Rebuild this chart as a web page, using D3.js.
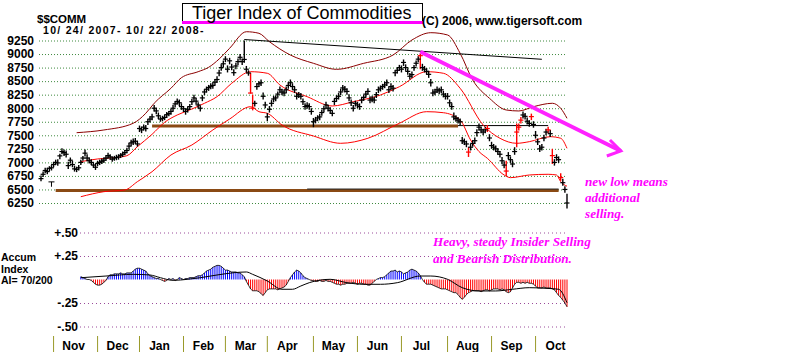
<!DOCTYPE html>
<html><head><meta charset="utf-8">
<script src="https://cdn.jsdelivr.net/npm/d3@7"></script>
<style>body{margin:0;background:#fff}svg{display:block}</style>
</head><body><svg id="c" width="800" height="352"></svg>
<script>
// ---------- DATA ----------
const closes=[
6700,6780,6850,6830,6890,6900,6960,7000,6990,7120,
7200,7180,7150,6940,7040,6960,6880,6870,6900,7000,
7080,7170,7080,7030,7000,6950,6910,6980,7000,7020,
7040,7080,7125,7100,7060,7080,7090,7100,7130,7150,
7180,7220,7300,7360,7380,7390,7340,7625,7600,7650,
7625,7750,7800,7840,8000,7950,7860,7800,7810,7830,
7880,7900,7940,8000,8080,8125,8100,8030,7990,7940,
7980,8030,8120,8190,8130,8060,8000,8190,8300,8350,
8380,8405,8420,8480,8530,8650,8750,8820,8906,8720,
8875,8760,8656,8780,8860,8940,8860,8900,8720,8650,
8280,8000,8090,8400,8450,8470,8220,8060,7840,7980,
8090,8170,8190,8260,8340,8300,8280,8340,8420,8470,
8400,8340,8220,8250,8220,8120,8030,8050,8030,7940,
7750,7780,7820,7840,7920,7990,8060,8000,7960,7905,
8125,8180,8220,8300,8375,8350,8310,8190,8100,8000,
8090,8060,8030,8150,8200,8260,8310,8150,8170,8150,
8250,8340,8370,8400,8430,8470,8340,8400,8370,8655,
8700,8750,8720,8845,8750,8680,8590,8620,8750,8830,
8906,8970,8750,8720,8680,8625,8470,8280,8300,8340,
8320,8340,8260,8220,8220,8100,8030,7840,7810,7780,
7750,7400,7380,7340,7190,7280,7350,7400,7550,7650,
7600,7560,7600,7625,7450,7310,7280,7250,7200,7150,
7030,6950,6840,7125,7050,6970,7200,7560,7650,7780,
7875,7850,7760,7720,7845,7700,7500,7380,7250,7280,
7450,7560,7600,7530,7125,7000,7090,7050,6720,6625,
6500,6250];
const highs=[
6760,6830,6900,6900,6930,6950,7010,7050,7060,7160,
7260,7240,7220,7010,7090,7030,6940,6920,6950,7050,
7120,7240,7150,7090,7060,7000,6970,7030,7050,7070,
7090,7130,7180,7150,7110,7120,7140,7150,7170,7200,
7230,7270,7360,7420,7440,7450,7400,7680,7660,7700,
7690,7800,7850,7900,8060,8010,7920,7850,7860,7880,
7930,7950,7990,8060,8130,8180,8160,8090,8040,7990,
8030,8080,8170,8250,8190,8110,8050,8240,8350,8400,
8430,8460,8480,8540,8590,8710,8810,8880,8960,8790,
8930,8820,8720,8840,8920,9000,8920,9250,8780,8700,
8650,8250,8140,8460,8500,8530,8290,8120,7910,8040,
8150,8230,8240,8310,8400,8360,8340,8400,8480,8530,
8460,8400,8290,8300,8280,8180,8090,8110,8090,8000,
7820,7840,7870,7900,7970,8040,8120,8060,8020,7960,
8180,8240,8280,8360,8430,8410,8370,8260,8160,8060,
8140,8120,8090,8210,8250,8320,8370,8220,8230,8210,
8300,8400,8420,8450,8490,8530,8400,8460,8430,8700,
8750,8800,8790,8900,8810,8740,8650,8680,8800,8880,
8960,9010,8820,8780,8740,8690,8540,8350,8360,8400,
8380,8400,8320,8280,8280,8160,8090,7920,7870,7840,
7810,7470,7440,7400,7280,7340,7410,7460,7610,7720,
7660,7620,7660,7690,7520,7380,7340,7310,7260,7210,
7100,7020,7030,7190,7110,7040,7280,7720,7720,7840,
7940,7910,7830,7780,7900,7760,7580,7440,7320,7340,
7510,7620,7660,7600,7250,7060,7150,7110,6800,6700,
6560,6420];
const lows=[
6650,6730,6800,6780,6840,6850,6910,6950,6940,7060,
7150,7120,7090,6880,6980,6910,6830,6820,6850,6950,
7030,7110,7020,6980,6950,6900,6860,6930,6950,6970,
6990,7030,7070,7050,7010,7030,7040,7050,7080,7100,
7130,7170,7240,7300,7320,7340,7290,7560,7540,7590,
7570,7690,7740,7780,7940,7890,7800,7750,7760,7780,
7820,7850,7880,7940,8020,8070,8040,7970,7930,7880,
7920,7970,8060,8130,8070,8000,7940,8130,8240,8290,
8320,8350,8360,8420,8470,8590,8690,8760,8850,8660,
8810,8700,8600,8720,8800,8880,8800,8840,8660,8600,
8270,7960,8030,8340,8390,8410,8160,8000,7760,7920,
8030,8110,8130,8200,8280,8240,8220,8280,8360,8410,
8340,8280,8160,8190,8160,8060,7970,7990,7970,7880,
7650,7720,7760,7780,7860,7930,8000,7940,7900,7850,
8060,8120,8160,8240,8310,8290,8250,8130,8040,7940,
8030,8000,7970,8090,8140,8200,8250,8090,8110,8090,
8190,8280,8310,8340,8370,8410,8280,8340,8310,8590,
8640,8690,8660,8780,8690,8620,8530,8560,8690,8770,
8850,8720,8690,8660,8620,8560,8400,8220,8240,8280,
8260,8280,8200,8160,8160,8040,7970,7780,7750,7720,
7690,7340,7320,7280,7100,7220,7290,7340,7480,7590,
7540,7500,7540,7560,7390,7250,7220,7190,7140,7090,
6970,6890,6750,7060,6990,6910,7140,7280,7590,7720,
7810,7790,7700,7660,7780,7640,7440,7320,7190,7220,
7390,7500,7540,7470,6970,6940,7030,6990,6660,6570,
6440,6150];
const redBars=[100,101,181,204,213,222,227,228,229,234,242,244,248];

const priceTicks=[9250,9000,8750,8500,8250,8000,7750,7500,7250,7000,6750,6500,6250];
const months=["Nov","Dec","Jan","Feb","Mar","Apr","May","Jun","Jul","Aug","Sep","Oct"];
const monthStart=[6,27,47,68,88,108,130,151,172,194,215,236];

// band lines: [trading-day index, value]
const bandUpper=[[17,7548],[30,7598],[44,7722],[50,7906],[54,8091],[62,8368],[67,8563],[75,8674],[80,8755],[85,8908],[90,9106],[98,9412],[104,9383],[109,9228],[119,8982],[130,8829],[141,8718],[154,8829],[168,8982],[177,9259],[186,9394],[194,9352],[200,9014],[206,8521],[214,8183],[222,7967],[228,7949],[235,8028],[244,8091],[248,7998],[251,7814]];
const bandMid=[[19,7013],[27,7063],[35,7087],[41,7123],[46,7290],[53,7518],[59,7740],[65,7875],[72,7985],[78,8091],[84,8213],[91,8460],[100,8674],[108,8645],[114,8429],[127,8213],[139,8041],[149,8120],[162,8244],[171,8397],[184,8674],[192,8645],[200,8368],[211,7690],[219,7445],[227,7352],[233,7382],[243,7474],[248,7445],[251,7260]];
const bandLower=[[19,6366],[30,6459],[40,6490],[46,6644],[53,6828],[62,7136],[72,7321],[82,7598],[90,7800],[100,8028],[104,7936],[108,7906],[115,7690],[130,7487],[143,7352],[156,7445],[171,7722],[184,7936],[192,7917],[200,7782],[205,7413],[209,7200],[213,7075],[221,6767],[224,6718],[233,6767],[242,6780],[246,6767],[248,6644],[251,6560]];

const supportUpper={level:7670,from:53,to:199,thinTo:242};
const supportLower={level:6480,from:7,to:247,blackFrom:127};
const declineLine=[[97,9268],[239,8903]];
const pinkArrow=[[181,9043],[276.7,7210]];
const pinkHead=[[271.5,7413],[276.7,7210],[270,7118]];
const tMark={i:5,top:6640,bottom:6550};

const aiStart=19;
const aiValues=[
0.03,0.02,0.01,0,0,-0.01,-0.03,-0.05,-0.06,-0.06,-0.05,
-0.03,-0.01,0.03,0.05,0.05,0.06,0.06,0.06,0.07,0.06,
0.06,0.07,0.07,0.07,0.09,0.11,0.12,0.12,0.11,0.10,
0.09,0.06,0.04,0.03,0.02,0.01,0.01,0,-0.01,-0.02,
-0.01,0.01,0,0.01,-0.01,0,0.02,0.01,0,0.01,
0.01,0.02,0.02,0.02,0.03,0.04,0.04,0.05,0.07,0.09,
0.10,0.11,0.13,0.14,0.15,0.15,0.14,0.12,0.10,0.10,
0.09,0.08,0.08,0.08,0.07,0.07,0.05,0.03,-0.02,-0.06,
-0.10,-0.12,-0.12,-0.12,-0.13,-0.15,-0.17,-0.14,-0.11,-0.10,
-0.10,-0.10,-0.10,-0.11,-0.10,-0.09,-0.08,-0.06,-0.02,0.02,
0.05,0.08,0.10,0.09,0.07,0.04,0.02,0.01,0,-0.01,
-0.01,-0.02,-0.02,-0.01,-0.02,-0.02,-0.01,-0.02,-0.02,-0.03,
-0.04,-0.05,-0.05,-0.06,-0.05,-0.05,-0.04,-0.04,-0.04,-0.03,
-0.04,-0.05,-0.04,-0.04,-0.05,-0.05,-0.06,-0.06,-0.04,-0.02,
0,0.01,0.02,0.02,0.03,0.05,0.07,0.09,0.09,0.10,
0.08,0.09,0.08,0.06,0.07,0.08,0.10,0.11,0.10,0.09,
0.07,0.04,0,-0.03,-0.05,-0.05,-0.05,-0.06,-0.07,-0.08,
-0.09,-0.10,-0.10,-0.10,-0.11,-0.12,-0.13,-0.14,-0.14,-0.16,
-0.19,-0.21,-0.19,-0.16,-0.14,-0.13,-0.12,-0.12,-0.12,-0.12,
-0.13,-0.12,-0.11,-0.11,-0.12,-0.11,-0.10,-0.10,-0.10,-0.11,
-0.10,-0.11,-0.13,-0.14,-0.13,-0.09,-0.05,-0.03,-0.03,-0.04,
-0.03,-0.04,-0.03,-0.04,-0.04,-0.05,-0.07,-0.09,-0.09,-0.09,
-0.08,-0.09,-0.09,-0.09,-0.10,-0.11,-0.14,-0.17,-0.19,-0.22,
-0.25,-0.29];
const aiAverage=[[19,0.019],[31,0.037],[44,0.055],[52,0.048],[57,0.019],[63,-0.009],[70,0.002],[76,0.019],[84,0.048],[92,0.072],[98,0.08],[101,0.055],[108,-0.016],[115,-0.104],[120,-0.104],[124,-0.069],[128,-0.034],[138,0.002],[146,-0.034],[154,-0.051],[162,-0.051],[170,-0.034],[181,0.037],[186,0.037],[194,0.002],[201,-0.087],[209,-0.122],[217,-0.122],[225,-0.104],[233,-0.087],[241,-0.094],[247,-0.104],[251,-0.247]];
const aiTicks=[0.5,0.25,-0.25,-0.5];
const aiTickLabels=["+.50","+.25","-.25","-.50"];

// ---------- DRAW ----------
const svg=d3.select("#c");
const FONT="'Liberation Sans', Arial, sans-serif";
const SERIF="'Liberation Serif','DejaVu Serif',serif";
const x=d3.scaleLinear().domain([0,251]).range([41,567]);
const y=d3.scaleLinear().domain([6250,9250]).range([203,40.5]);
const yA=d3.scaleLinear().domain([-0.5,0.5]).range([326.5,232.5]);

// title
svg.append("rect").attr("x",182.5).attr("y",3.5).attr("width",240).attr("height",20).attr("fill","#fff").attr("stroke","#000");
svg.append("rect").attr("x",182).attr("y",21).attr("width",241).attr("height",3).attr("fill","#ff00ff");
svg.append("text").attr("x",192).attr("y",19).attr("font-family",FONT).attr("font-size",18).text("Tiger Index of Commodities");
svg.append("text").attr("x",422).attr("y",25).attr("font-family",FONT).attr("font-weight","bold").attr("font-size",12).text("(C) 2006, www.tigersoft.com");
svg.append("text").attr("x",37).attr("y",23).attr("font-family",FONT).attr("font-weight","bold").attr("font-size",11.5).text("$$COMM");
svg.append("text").attr("x",43).attr("y",34).attr("font-family",FONT).attr("font-weight","bold").attr("font-size",10.5).attr("letter-spacing",1.3).text("10/ 24/ 2007- 10/ 22/ 2008-");

// price grid + labels
const gy=svg.append("g").attr("transform","translate(39,0)")
  .call(d3.axisLeft(y).tickValues(priceTicks).tickSize(-528).tickPadding(5).tickFormat(d3.format("d")));
gy.attr("font-family",FONT).attr("font-size",12).attr("font-weight","bold");
gy.select(".domain").remove();
gy.selectAll(".tick line").attr("stroke","#3f8a3f").attr("stroke-dasharray","1,2");
gy.selectAll(".tick text").attr("fill","#000");

// AI grid + labels
const ga=svg.append("g").attr("transform","translate(80,0)")
  .call(d3.axisLeft(yA).tickValues(aiTicks).tickSize(-487).tickPadding(2).tickFormat((d,i)=>aiTickLabels[i]));
ga.attr("font-family",FONT).attr("font-size",12).attr("font-weight","bold");
ga.select(".domain").remove();
ga.selectAll(".tick line").attr("stroke","#9a4a9a").attr("stroke-dasharray","1,3");
ga.selectAll(".tick text").attr("fill","#000");
["Accum","Index","AI= 70/200"].forEach((t,k)=>svg.append("text").attr("x",1).attr("y",261+k*11.5)
  .attr("font-family",FONT).attr("font-weight","bold").attr("font-size",10.5).text(t));

// support lines
svg.append("line").attr("x1",x(supportUpper.from)).attr("x2",x(supportUpper.to)).attr("y1",y(supportUpper.level)).attr("y2",y(supportUpper.level)).attr("stroke","#8a4a14").attr("stroke-width",3);
svg.append("line").attr("x1",x(supportUpper.to)).attr("x2",x(supportUpper.thinTo)).attr("y1",y(supportUpper.level)-0.5).attr("y2",y(supportUpper.level)-0.5).attr("stroke","#000").attr("stroke-width",1);
svg.append("line").attr("x1",x(supportLower.from)).attr("x2",x(supportLower.to)).attr("y1",y(supportLower.level)).attr("y2",y(supportLower.level)).attr("stroke","#8a4a14").attr("stroke-width",3);
svg.append("line").attr("x1",x(supportLower.blackFrom)).attr("x2",x(supportLower.to)).attr("y1",y(supportLower.level)-1.5).attr("y2",y(supportLower.level)-1.5).attr("stroke","#222").attr("stroke-width",1);

// bands
const band=d3.line().x(d=>x(d[0])).y(d=>y(d[1])).curve(d3.curveMonotoneX);
svg.append("path").attr("d",band(bandUpper)).attr("fill","none").attr("stroke","#8b0000").attr("stroke-width",1);
svg.append("path").attr("d",band(bandMid)).attr("fill","none").attr("stroke","#ff0000").attr("stroke-width",1);
svg.append("path").attr("d",band(bandLower)).attr("fill","none").attr("stroke","#ff0000").attr("stroke-width",1);

// declining resistance line
svg.append("path").attr("d",d3.line().x(d=>x(d[0])).y(d=>y(d[1]))(declineLine)).attr("stroke","#000").attr("fill","none");

// T marker
svg.append("path").attr("d",`M${x(tMark.i)-3},${y(tMark.top)}H${x(tMark.i)+3}M${x(tMark.i)},${y(tMark.top)}V${y(tMark.bottom)}`).attr("stroke","#000").attr("fill","none");

// price bars
const idx=d3.range(closes.length);
const col=i=>redBars.includes(i)?"#ff0000":"#000";
const gb=svg.append("g").attr("stroke-width",1.4);
gb.selectAll("line.v").data(idx).join("line").attr("class","v")
  .attr("x1",i=>x(i)).attr("x2",i=>x(i)).attr("y1",i=>y(highs[i])).attr("y2",i=>y(lows[i])).attr("stroke",col);
gb.selectAll("line.h").data(idx).join("line").attr("class","h")
  .attr("x1",i=>x(i)-2.5).attr("x2",i=>x(i)+2.5).attr("y1",i=>y(closes[i])).attr("y2",i=>y(closes[i])).attr("stroke",col).attr("stroke-width",1.2);

// pink arrow
const pl=d3.line().x(d=>x(d[0])).y(d=>y(d[1]));
svg.append("path").attr("d",pl(pinkArrow)).attr("stroke","#ff22ff").attr("stroke-width",4).attr("fill","none");
svg.append("path").attr("d",pl(pinkHead)).attr("stroke","#ff22ff").attr("stroke-width",3).attr("fill","none");

// AI histogram
const aiIdx=d3.range(aiValues.length);
svg.append("g").selectAll("line").data(aiIdx).join("line")
  .attr("x1",k=>x(aiStart+k)).attr("x2",k=>x(aiStart+k))
  .attr("y1",yA(0)).attr("y2",k=>yA(aiValues[k]))
  .attr("stroke",k=>aiValues[k]>=0?"#0000ff":"#ff0000").attr("stroke-width",1);
svg.append("path").attr("d",d3.line().x((d,k)=>x(aiStart+k)).y(d=>yA(d))(aiValues)).attr("fill","none").attr("stroke","#000").attr("stroke-width",0.8);
svg.append("path").attr("d",d3.line().x(d=>x(d[0])).y(d=>yA(d[1])).curve(d3.curveMonotoneX)(aiAverage)).attr("fill","none").attr("stroke","#000").attr("stroke-width",1);

// month ticks + labels
const gm=svg.append("g");
gm.selectAll("line").data(monthStart).join("line").attr("x1",d=>x(d)).attr("x2",d=>x(d)).attr("y1",336).attr("y2",352).attr("stroke","#9a9a2a");
gm.selectAll("text").data(months).join("text").attr("x",(d,i)=>x(monthStart[i])+20).attr("y",350)
  .attr("text-anchor","middle").attr("font-family",FONT).attr("font-weight","bold").attr("font-size",12).text(d=>d);

// annotations
const ann=(t,xx,yy)=>svg.append("text").attr("x",xx).attr("y",yy).attr("font-family",SERIF).attr("font-weight","bold").attr("font-style","italic").attr("font-size",13.2).attr("fill","#ff00ff").text(t);
ann("new low means",585,186);
ann("additional",585,202);
ann("selling.",585,218);
ann("Heavy, steady Insider Selling",433,246);
ann("and Bearish Distribution.",433,263);
</script></body></html>
